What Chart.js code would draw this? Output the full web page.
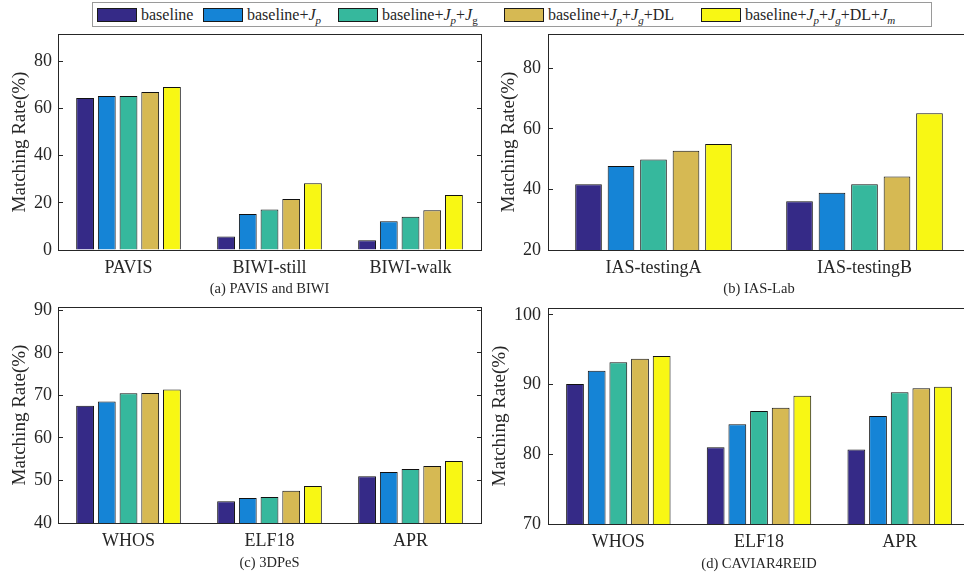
<!DOCTYPE html>
<html>
<head>
<meta charset="utf-8">
<script src="https://cdn.jsdelivr.net/npm/chart.js@4/dist/chart.umd.min.js"></script>
<style>
  html, body { margin: 0; padding: 0; background: #fff; width: 964px; height: 579px; overflow: hidden; }
  .panel { position: absolute; line-height: 0; }
  .panel canvas { display: block; }
  #legend { position: absolute; left: 92px; top: 2px; width: 840px; height: 25px; box-sizing: border-box;
            border: 1px solid #9a9a9a; background: #fff; z-index: 5; line-height: normal;
            font-family: 'Liberation Serif', 'Times New Roman', serif; font-size: 16px; color: #262626; }
  .item { position: absolute; top: 0; height: 23px; display: flex; align-items: center; white-space: nowrap; }
  .sw { width: 40px; height: 14px; box-sizing: border-box; border: 1px solid #1a1a1a; margin-right: 4px; }
  .item sub { font-size: 11px; vertical-align: -4px; line-height: 0; }
</style>
</head>
<body>
<div class="panel" style="left:0px;top:0px;"><canvas id="cA" width="482" height="300"></canvas></div>
<div class="panel" style="left:482px;top:0px;"><canvas id="cB" width="488" height="300"></canvas></div>
<div class="panel" style="left:0px;top:280px;"><canvas id="cC" width="482" height="299"></canvas></div>
<div class="panel" style="left:482px;top:280px;"><canvas id="cD" width="488" height="299"></canvas></div>
<div id="legend"></div>
<script>
// ---------------- data ----------------
const seriesNames = ['baseline', 'baseline+Jp', 'baseline+Jp+Jg', 'baseline+Jp+Jg+DL', 'baseline+Jp+Jg+DL+Jm'];
const seriesLegendHtml = [
  'baseline',
  'baseline+<i>J</i><sub><i>p</i></sub>',
  'baseline+<i>J</i><sub><i>p</i></sub>+<i>J</i><sub>g</sub>',
  'baseline+<i>J</i><sub><i>p</i></sub>+<i>J</i><sub><i>g</i></sub>+DL',
  'baseline+<i>J</i><sub><i>p</i></sub>+<i>J</i><sub><i>g</i></sub>+DL+<i>J</i><sub><i>m</i></sub>'
];
const seriesColors = ['#352a87', '#1584d6', '#36b89d', '#d6b953', '#f8f714'];

// (a) PAVIS and BIWI
const catsA = ['PAVIS', 'BIWI-still', 'BIWI-walk'];
const valsA = [
  [64.4, 5.7, 4.1],
  [65.2, 15.3, 12.2],
  [65.2, 17.2, 14.1],
  [66.9, 21.6, 16.8],
  [69.1, 28.3, 23.3]
];
const ticksA = [0, 20, 40, 60, 80];

// (b) IAS-Lab
const catsB = ['IAS-testingA', 'IAS-testingB'];
const valsB = [
  [41.7, 36.1],
  [47.7, 38.9],
  [49.9, 41.7],
  [52.8, 44.3],
  [55.0, 65.1]
];
const ticksB = [20, 40, 60, 80];

// (c) 3DPeS
const catsC = ['WHOS', 'ELF18', 'APR'];
const valsC = [
  [67.6, 45.1, 51.0],
  [68.6, 45.9, 52.0],
  [70.5, 46.1, 52.7],
  [70.6, 47.6, 53.4],
  [71.4, 48.7, 54.6]
];
const ticksC = [40, 50, 60, 70, 80, 90];

// (d) CAVIAR4REID
const catsD = ['WHOS', 'ELF18', 'APR'];
const valsD = [
  [90.1, 81.0, 80.7],
  [92.0, 84.3, 85.5],
  [93.2, 86.2, 88.9],
  [93.7, 86.7, 89.5],
  [94.1, 88.4, 89.7]
];
const ticksD = [70, 80, 90, 100];

// ---------------- legend ----------------
const legendLefts = [4, 110, 245, 411, 608];
const legendEl = document.getElementById('legend');
seriesLegendHtml.forEach((html, i) => {
  const it = document.createElement('div');
  it.className = 'item';
  it.style.left = legendLefts[i] + 'px';
  it.innerHTML = '<span class="sw" style="background:' + seriesColors[i] + '"></span><span>' + html + '</span>';
  legendEl.appendChild(it);
});

// ---------------- charts ----------------
const FONT = "'Liberation Serif', 'Times New Roman', serif";
const AXIS = '#262626';
const TICK_IN = -5; // inward tick marks
Chart.defaults.font.family = FONT;
Chart.defaults.color = AXIS;

function makePanel(id, cats, vals, yMin, yMax, yTicks, subtitle, lay) {
  const hasRight = lay.right > 0;
  const isTop = c => c.tick && c.tick.value === yMax;
  return new Chart(document.getElementById(id), {
    type: 'bar',
    data: {
      labels: cats,
      datasets: vals.map((v, i) => ({
        label: seriesNames[i],
        data: v,
        backgroundColor: seriesColors[i],
        borderColor: '#111',
        borderWidth: 1,
        categoryPercentage: 0.77,
        barPercentage: 0.82
      }))
    },
    options: {
      responsive: false,
      animation: false,
      events: [],
      layout: { padding: { top: lay.top, right: lay.right, left: 0, bottom: 0 } },
      plugins: { legend: { display: false }, tooltip: { enabled: false } },
      scales: {
        x: {
          offset: true,
          // boundary grid lines: only the last one (right box edge) is shown
          grid: {
            display: true, offset: true, drawOnChartArea: true, drawTicks: false, lineWidth: 1,
            color: c => (c.type === 'scale' && hasRight) ? AXIS : 'rgba(0,0,0,0)'
          },
          border: { display: true, color: AXIS, width: 1 },
          ticks: { font: { size: 18 }, color: AXIS, padding: 7, maxRotation: 0 },
          title: { display: true, text: subtitle, font: { size: 14.5 }, color: AXIS, padding: { top: 0, bottom: lay.subPad } },
          afterFit(s) { s.height = lay.xH; }
        },
        y: {
          min: yMin, max: yMax,
          // line at the axis maximum = top box edge; other lines only show an inner tick at the right edge
          grid: {
            display: true, drawOnChartArea: true, drawTicks: true, tickLength: TICK_IN, lineWidth: 1,
            color: c => (isTop(c) || hasRight) ? AXIS : 'rgba(0,0,0,0)',
            tickColor: AXIS
          },
          border: {
            display: true, color: AXIS, width: 1,
            dash: c => {
              if (isTop(c) || !hasRight) return [];
              const ca = c.chart.chartArea;
              const w = ca ? (ca.right - ca.left) : 400;
              return [0, Math.max(w + TICK_IN, 1), -TICK_IN, 2000];
            }
          },
          ticks: {
            font: { size: 18 }, color: AXIS, padding: lay.tickPad - TICK_IN,
            callback: v => (yTicks.includes(v) ? String(v) : '')
          },
          afterBuildTicks(s) { s.ticks = yTicks.concat([yMax]).map(v => ({ value: v })); },
          title: { display: true, text: 'Matching Rate(%)', font: { size: 19 }, color: AXIS, padding: { top: lay.yTitlePad, bottom: 0 } },
          afterFit(s) { s.width = lay.yW; }
        }
      }
    }
  });
}

makePanel('cA', catsA, valsA, 0, 91.5, ticksA, '(a) PAVIS and BIWI',
  { top: 34, right: 1, xH: 50, yW: 58, subPad: 2.3, tickPad: 6, yTitlePad: 8.6 });
makePanel('cB', catsB, valsB, 20, 91.3, ticksB, '(b) IAS-Lab',
  { top: 34, right: 0, xH: 50, yW: 66, subPad: 2.3, tickPad: 7, yTitlePad: 15.3 });
makePanel('cC', catsC, valsC, 40, 90.8, ticksC, '(c) 3DPeS',
  { top: 27, right: 1, xH: 56, yW: 58, subPad: 7.6, tickPad: 6, yTitlePad: 8.6 });
makePanel('cD', catsD, valsD, 70, 101, ticksD, '(d) CAVIAR4REID',
  { top: 28, right: 0, xH: 55, yW: 66, subPad: 6.3, tickPad: 7, yTitlePad: 6.3 });
</script>
</body>
</html>
